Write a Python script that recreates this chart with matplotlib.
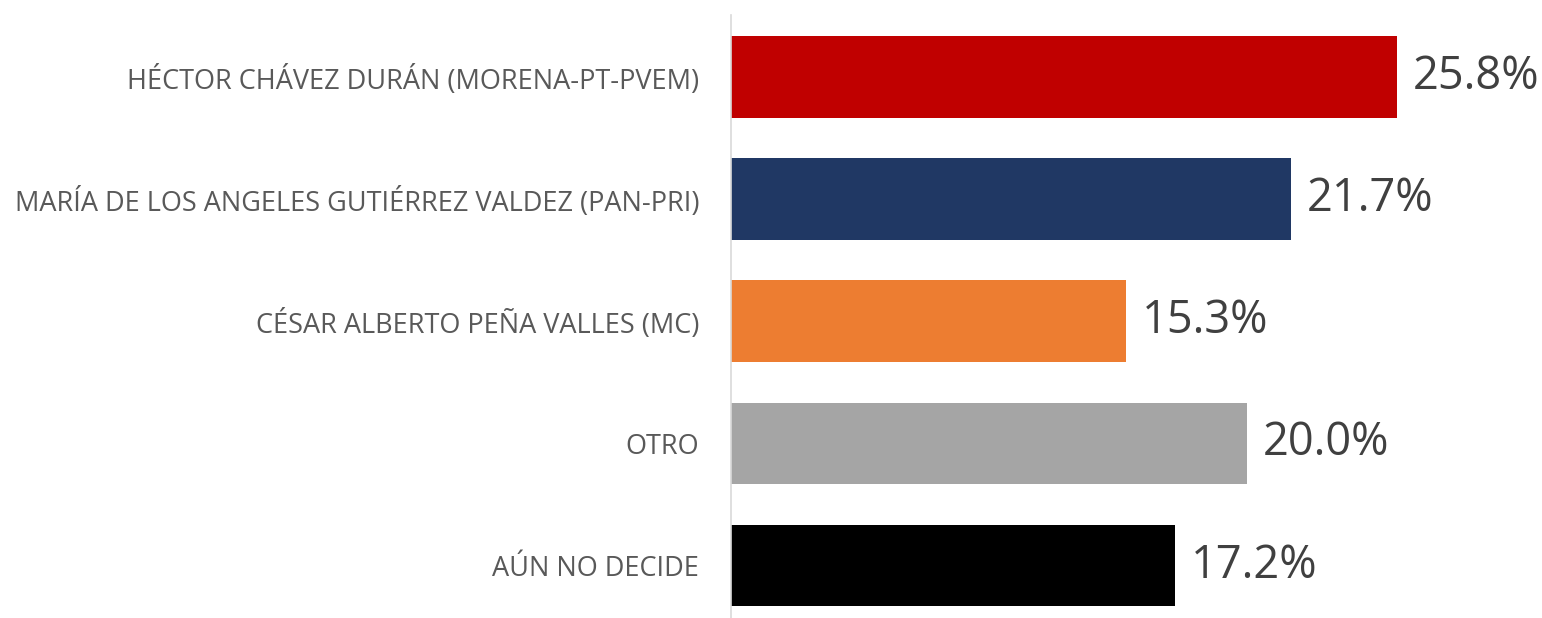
import matplotlib.pyplot as plt

# Candidates and survey percentages (top to bottom)
labels = ["HÉCTOR CHÁVEZ DURÁN (MORENA-PT-PVEM)",
          "MARÍA DE LOS ANGELES GUTIÉRREZ VALDEZ (PAN-PRI)",
          "CÉSAR ALBERTO PEÑA VALLES (MC)",
          "OTRO",
          "AÚN NO DECIDE"]
values = [25.8, 21.7, 15.3, 20.0, 17.2]
colors = ["#C00000", "#203864", "#ED7D31", "#A5A5A5", "#000000"]

plt.rcParams['font.family'] = ['Open Sans', 'DejaVu Sans']

fig = plt.figure(figsize=(15.42, 6.18), dpi=100)
ax = fig.add_axes([731/1542, 0, 1 - 731/1542, 603/618])

pos = range(len(values))
ax.barh(pos, values, height=0.67, color=colors)

# value labels next to each bar
for y, v in zip(pos, values):
    ax.text(v + 0.6, y, "{:.1f}%".format(v), va="center", ha="left",
            fontsize=32.5, color="#404040")

ax.set_xlim(0, 811/25.81)
ax.set_ylim(4.43, -0.51)
ax.set_yticks(list(pos))
ax.set_yticklabels(labels, fontsize=19.5, color="#595959")
ax.tick_params(axis="y", length=0, pad=23)
ax.set_xticks([])

for s in ["top", "right", "bottom"]:
    ax.spines[s].set_visible(False)
ax.spines["left"].set_color("#D9D9D9")
ax.spines["left"].set_linewidth(1.2)

fig.savefig("out.png", dpi=100)
